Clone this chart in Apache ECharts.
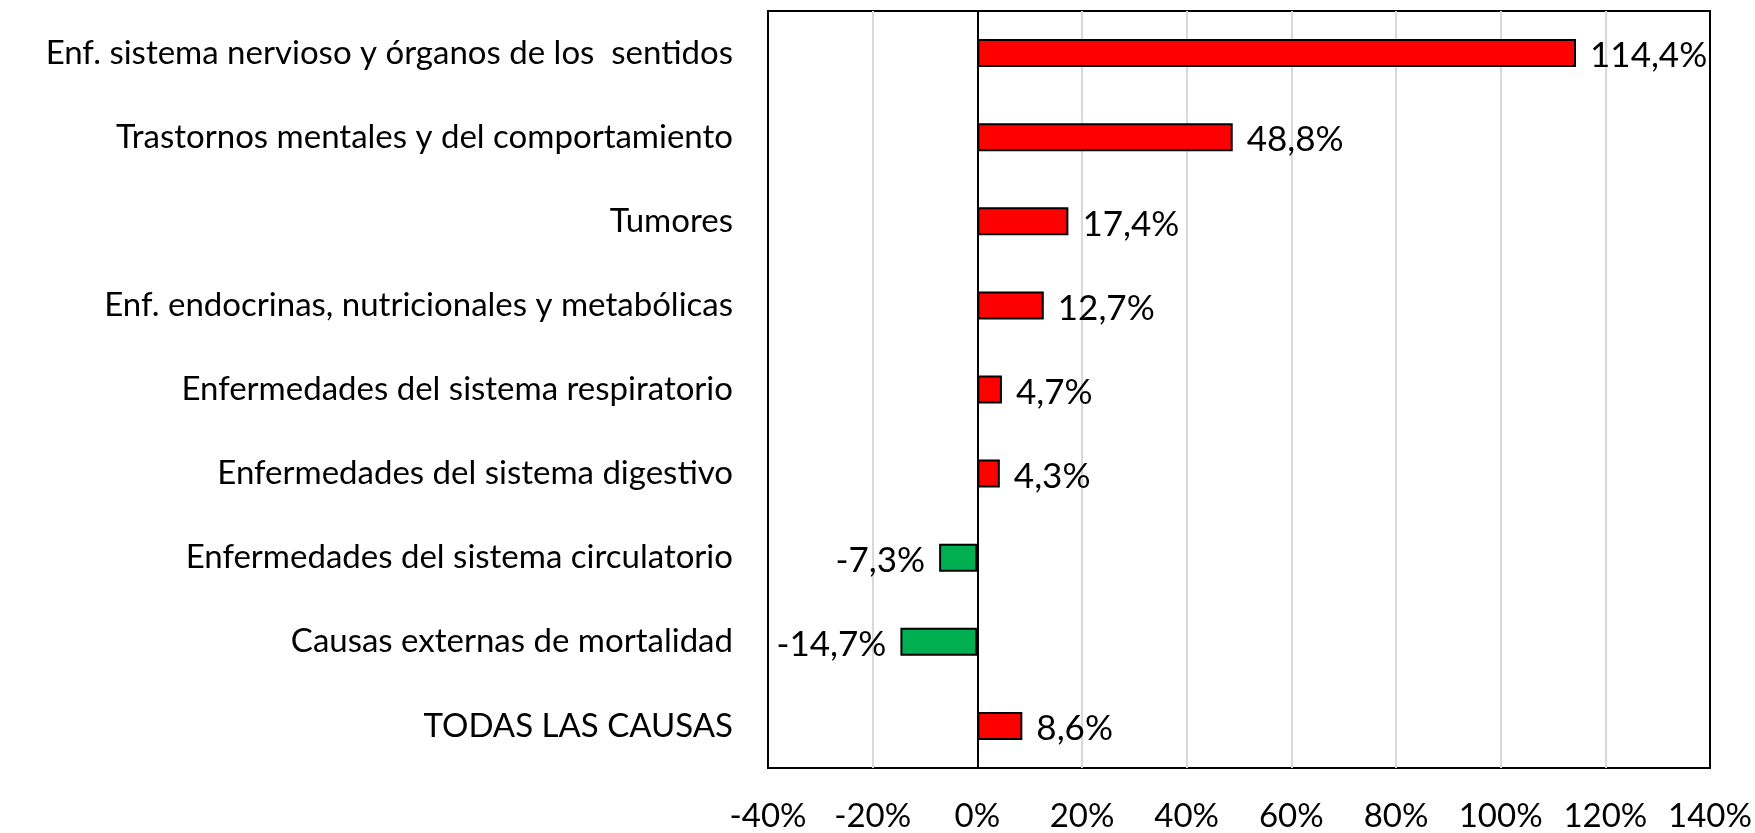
<!DOCTYPE html>
<html>
<head>
<meta charset="utf-8">
<script src="https://cdn.jsdelivr.net/npm/echarts@6/dist/echarts.min.js"></script>
<style>
  html, body { margin: 0; padding: 0; background: #ffffff; }
  #chart { width: 1755px; height: 833px; }
</style>
</head>
<body>
<div id="chart"></div>
<script>
// categories, top to bottom
var causas = [
  'Enf. sistema nervioso y órganos de los  sentidos',
  'Trastornos mentales y del comportamiento',
  'Tumores',
  'Enf. endocrinas, nutricionales y metabólicas',
  'Enfermedades del sistema respiratorio',
  'Enfermedades del sistema digestivo',
  'Enfermedades del sistema circulatorio',
  'Causas externas de mortalidad',
  'TODAS LAS CAUSAS'
]
// percentage change
var variacion = [114.4, 48.8, 17.4, 12.7, 4.7, 4.3, -7.3, -14.7, 8.6]
var ejeMin = -40
var ejeMax = 140
var ejeIntervalo = 20

var fuente = 'Lato'
var chart = echarts.init(document.getElementById('chart'))

var barData = variacion.map(function (v) {
  return {
    value: v,
    itemStyle: { color: v < 0 ? '#00b050' : '#ff0000' },
    label: { position: v < 0 ? 'left' : 'right' }
  }
})

chart.setOption({
  animation: false,
  grid: {
    left: 768,
    right: 45,
    top: 11,
    bottom: 63,
    show: true,
    borderColor: '#000000',
    borderWidth: 2,
    backgroundColor: '#ffffff'
  },
  xAxis: {
    type: 'value',
    min: ejeMin,
    max: ejeMax,
    interval: ejeIntervalo,
    axisLine: { show: false },
    axisTick: { show: false },
    splitLine: {
      show: true,
      showMinLine: false,
      showMaxLine: false,
      lineStyle: { color: '#d9d9d9', width: 2 }
    },
    axisLabel: {
      margin: 32,
      fontFamily: fuente,
      fontSize: 33,
      color: '#000000',
      formatter: function (v) { return v + '%' }
    }
  },
  yAxis: {
    type: 'category',
    data: causas,
    inverse: true,
    axisLine: { show: false },
    axisTick: { show: false },
    splitLine: { show: false },
    axisLabel: {
      margin: 35,
      fontFamily: fuente,
      fontSize: 33,
      color: '#000000'
    }
  },
  series: [{
    type: 'bar',
    data: barData,
    barWidth: 28,
    itemStyle: { borderColor: '#000000', borderWidth: 2 },
    label: {
      show: true,
      distance: 14,
      offset: [0, 3],
      fontFamily: fuente,
      fontSize: 35,
      color: '#000000',
      formatter: function (p) { return p.value.toFixed(1).replace('.', ',') + '%' }
    },
    markLine: {
      silent: true,
      symbol: 'none',
      label: { show: false },
      lineStyle: { color: '#000000', width: 2, type: 'solid' },
      data: [{ xAxis: 0 }]
    }
  }]
})
</script>
</body>
</html>
